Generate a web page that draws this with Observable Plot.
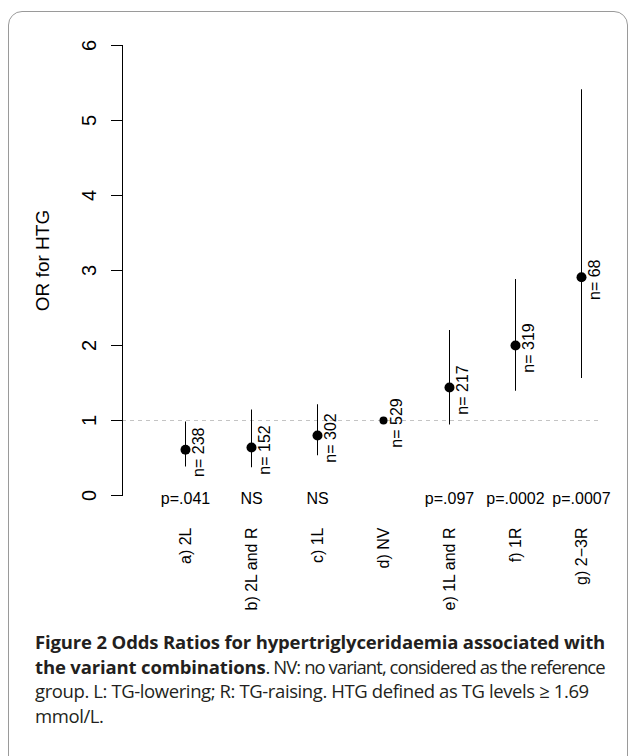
<!DOCTYPE html>
<html>
<head>
<meta charset="utf-8">
<script src="https://cdn.jsdelivr.net/npm/d3@7"></script>
<script src="https://cdn.jsdelivr.net/npm/@observablehq/plot@0.6"></script>
<style>
  html, body { margin: 0; padding: 0; background: #fff; }
  body { width: 628px; height: 756px; position: relative; overflow: hidden; }
  .card { position: absolute; left: 8px; top: 11px; width: 620px; height: 760px;
          border: 1px solid #9a9a9a; border-radius: 14px; box-sizing: border-box; }
  #chart { position: absolute; left: 0; top: 0; }
  .caption { position: absolute; left: 35px; top: 630px; width: 585px;
             font-family: "Open Sans", "Noto Sans", sans-serif; font-size: 18.5px;
             line-height: 24.5px; color: #231f20; letter-spacing: -0.15px; white-space: nowrap; }
  .caption b { font-weight: 700; }
  .l2 { letter-spacing: -0.95px; }
  .l3 { letter-spacing: -0.4px; }
</style>
</head>
<body>
<div class="card"></div>
<div id="chart"></div>
<div class="caption">
  <b>Figure 2 Odds Ratios for hypertriglyceridaemia associated with</b><br>
  <b>the variant combinations</b><span class="l2">. NV: no variant, considered as the reference</span><br>
  <span class="l3">group. L: TG-lowering; R: TG-raising. HTG defined as TG levels ≥ 1.69</span><br>
  <span class="l3">mmol/L.</span>
</div>
<script>
const categories = ["a) 2L", "b) 2L and R", "c) 1L", "d) NV", "e) 1L and R", "f) 1R", "g) 2\u22123R"];
const oddsRatios = [0.61, 0.64, 0.80, 1.00, 1.44, 2.00, 2.91];
const ciLow      = [0.38, 0.37, 0.53, null, 0.94, 1.39, 1.56];
const ciHigh     = [0.98, 1.14, 1.21, null, 2.20, 2.88, 5.41];
const sampleSizes = [238, 152, 302, 529, 217, 319, 68];
const pLabels = ["p=.041", "NS", "NS", "", "p=.097", "p=.0002", "p=.0007"];
const yTicks = [0, 1, 2, 3, 4, 5, 6];
const referenceOR = 1;

const data = categories.map((c, i) => ({
  cat: c, or: oddsRatios[i], lo: ciLow[i], hi: ciHigh[i], n: sampleSizes[i], p: pLabels[i]
}));
const withCI = data.filter(d => d.lo != null);
const refGroup = data.filter(d => d.lo == null);

const chart = Plot.plot({
  width: 628,
  height: 630,
  marginLeft: 122,
  marginRight: 26,
  marginTop: 45,
  marginBottom: 135,
  style: { fontFamily: "'Liberation Sans', Arial, Helvetica, sans-serif", background: "transparent", color: "black" },
  x: { type: "point", domain: categories, range: [184, 582], padding: 0 },
  y: { domain: [0, 6] },
  marks: [
    Plot.ruleY([referenceOR], { stroke: "#c4c4c4", strokeDasharray: "4,4", strokeWidth: 1 }),
    Plot.frame({ anchor: "left", stroke: "black", strokeWidth: 1 }),
    Plot.axisY({ ticks: yTicks, tickFormat: d => String(d), tickSize: 11, tickPadding: 16, tickRotate: -90, fontSize: 20, label: null, stroke: "black" }),
    Plot.axisX({ tickSize: 0, tickPadding: 32, tickRotate: -90, fontSize: 16, label: null }),
    Plot.ruleX(withCI, { x: "cat", y1: "lo", y2: "hi", stroke: "black", strokeWidth: 1 }),
    Plot.dot(withCI, { x: "cat", y: "or", r: 5, fill: "black", stroke: "none" }),
    Plot.dot(refGroup, { x: "cat", y: "or", r: 4, fill: "black", stroke: "none" }),
    Plot.text(data, { x: "cat", y: "or", text: d => "n= " + d.n, rotate: -90, dx: 13, dy: 2.5, fontSize: 16, fill: "black" }),
    Plot.text(data, { x: "cat", text: "p", frameAnchor: "bottom", dy: 3, lineAnchor: "middle", fontSize: 16, fill: "black" }),
    Plot.text(["OR for HTG"], { frameAnchor: "left", dx: -80, dy: -10, rotate: -90, textAnchor: "middle", lineAnchor: "middle", fontSize: 19, fill: "black" })
  ]
});
document.getElementById("chart").appendChild(chart);
</script>
</body>
</html>
